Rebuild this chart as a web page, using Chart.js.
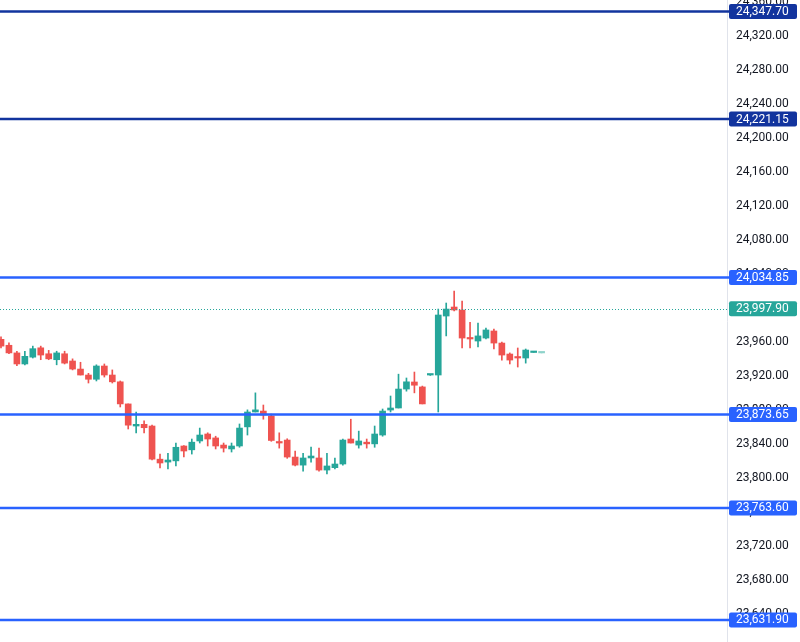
<!DOCTYPE html>
<html>
<head>
<meta charset="utf-8">
<script src="https://cdn.jsdelivr.net/npm/chart.js@4.4.1/dist/chart.umd.min.js"></script>
<style>
    html, body { margin: 0; padding: 0; background: #ffffff; }
    #wrap { position: relative; width: 800px; height: 642px; }
</style>
</head>
<body>
<div id="wrap"><canvas id="candles"></canvas></div>
<script>
// OHLC, one entry per candle (left to right)
const opens  = [23962, 23955, 23946, 23933, 23941, 23952, 23945, 23938, 23945, 23936.5,
                23927, 23920, 23915, 23930.6, 23920, 23912, 23886, 23860, 23862, 23860,
                23821, 23817.6, 23819, 23836.5, 23832, 23842.4, 23850.6, 23846, 23837.6, 23833,
                23836.5, 23859, 23876.5, 23877.6, 23871.8, 23841.5, 23843.5, 23823.5, 23814, 23822.4,
                23822.4, 23808.2, 23811, 23815.3, 23844.7, 23837.6, 23841, 23839, 23849.4, 23878.8,
                23881.2, 23903.5, 23911.8, 23906, 23920, 23920, 23989.4, 24000, 23996.5, 23963.5,
                23960, 23963.5, 23971.8, 23957.6, 23944.7, 23941.2, 23940, 23946.5, 23946];
const highs  = [23965, 23958, 23948, 23948, 23954, 23954, 23949, 23948, 23948, 23939,
                23935, 23922, 23932, 23933, 23926, 23913, 23886, 23876.5, 23866, 23861,
                23827, 23828, 23840, 23837, 23844.7, 23857.6, 23852, 23848, 23840, 23840,
                23862.4, 23879, 23899, 23884.7, 23874, 23852, 23845, 23830.6, 23828, 23835.3,
                23834, 23828, 23822.4, 23844.7, 23868, 23854, 23844.7, 23860, 23880, 23895.3,
                23921, 23916.5, 23923.5, 23907, 23920.5, 23997.6, 24004.7, 24018.8, 24007, 23982,
                23981, 23975.3, 23974, 23958.8, 23946, 23951.8, 23950.6, 23946.5, 23946];
const lows   = [23952, 23945, 23931, 23932, 23940, 23938, 23938, 23932, 23933, 23926,
                23920, 23910.6, 23913, 23917.6, 23910.6, 23882.4, 23856.5, 23852, 23852, 23820,
                23810.6, 23809.4, 23813, 23823.5, 23827, 23840, 23836.5, 23833, 23829.4, 23829.4,
                23835, 23849.4, 23876.5, 23868, 23842, 23834, 23822, 23813, 23807, 23817.6,
                23807, 23803.5, 23809.4, 23814, 23840, 23834, 23834, 23835, 23848, 23876.5,
                23881.2, 23901, 23899, 23886, 23919.5, 23876.5, 23966, 23995.3, 23952, 23952,
                23953, 23962.4, 23950.6, 23937.6, 23933, 23929.4, 23934, 23946.5, 23946];
const closes = [23954, 23946, 23933, 23942, 23951, 23943.5, 23939, 23946, 23934, 23927,
                23920, 23915, 23930.6, 23920, 23912, 23886, 23861, 23862, 23858, 23821,
                23816.5, 23820, 23835, 23830.6, 23841, 23849.4, 23844.7, 23836.5, 23834, 23836.5,
                23857.6, 23876.5, 23879, 23873, 23843, 23840, 23823.5, 23814, 23822.4, 23824.7,
                23808.2, 23813, 23815.3, 23843.5, 23840, 23842.4, 23839, 23850.6, 23877.6, 23881.2,
                23903.5, 23912, 23908, 23886, 23920, 23990.6, 23997.6, 23996.5, 23963.5, 23962.4,
                23966, 23973, 23957.6, 23943.5, 23937.6, 23940, 23949.4, 23946.5, 23946];

// drawn levels and the last price
const levelValues = [24347.70, 24221.15, 24034.85, 23873.65, 23763.60, 23631.90];
const lastPrice = 23997.90;

// price axis
const yMin = 23605.9;
const yMax = 24361.2;
const yStep = 40;

const GREEN = '#26a69a';
const RED = '#ef5350';
const NAVY = '#12349e';
const BLUE = '#2962ff';

function fmt(v) {
    return v.toLocaleString('en-US', { minimumFractionDigits: 2, maximumFractionDigits: 2 });
}

const wickData = highs.map((h, i) => ({ x: i, y: [lows[i], h] }));
const bodyData = opens.map((o, i) => ({ x: i, y: [o, closes[i]] }));
const candleColors = opens.map((o, i) => {
    if (i === opens.length - 1) return '#8fd3cb';
    return closes[i] >= o ? GREEN : RED;
});

const levelsPlugin = {
    id: 'levels',
    afterDatasetsDraw(chart) {
        const { ctx, chartArea, scales: { y } } = chart;
        ctx.save();
        // last price dotted line
        const py = Math.round(y.getPixelForValue(lastPrice)) + 0.5;
        ctx.strokeStyle = GREEN;
        ctx.lineWidth = 1;
        ctx.setLineDash([1, 2]);
        ctx.beginPath();
        ctx.moveTo(chartArea.left, py);
        ctx.lineTo(chartArea.right, py);
        ctx.stroke();
        ctx.setLineDash([]);
        levelValues.forEach((v, i) => {
            const ly = y.getPixelForValue(v);
            ctx.strokeStyle = i < 2 ? NAVY : BLUE;
            ctx.lineWidth = 2.5;
            ctx.beginPath();
            ctx.moveTo(chartArea.left, ly);
            ctx.lineTo(chartArea.right + 2, ly);
            ctx.stroke();
        });
        ctx.restore();
    },
    afterDraw(chart) {
        const { ctx, chartArea, scales: { y } } = chart;
        const badges = levelValues.map((v, i) => ({ v, color: i < 2 ? NAVY : BLUE }));
        badges.push({ v: lastPrice, color: GREEN });
        ctx.save();
        ctx.font = '12px Roboto';
        ctx.textBaseline = 'middle';
        ctx.textAlign = 'left';
        badges.forEach(b => {
            const by = y.getPixelForValue(b.v);
            ctx.fillStyle = b.color;
            ctx.beginPath();
            ctx.roundRect(chartArea.right + 2, by - 7.5, 68, 15, 2);
            ctx.fill();
            ctx.fillStyle = '#ffffff';
            ctx.fillText(fmt(b.v), chartArea.right + 9, by + 0.5);
        });
        ctx.restore();
    }
};

new Chart(document.getElementById('candles'), {
    type: 'bar',
    data: {
        datasets: [{
            label: 'wick',
            data: wickData,
            backgroundColor: candleColors,
            barThickness: 1,
            grouped: false,
            order: 2
        }, {
            label: 'body',
            data: bodyData,
            backgroundColor: candleColors,
            barThickness: 6,
            minBarLength: 1.5,
            grouped: false,
            order: 1
        }]
    },
    options: {
        responsive: true,
        maintainAspectRatio: false,
        animation: false,
        layout: { padding: 0 },
        plugins: {
            legend: { display: false },
            tooltip: { enabled: false }
        },
        scales: {
            x: {
                type: 'linear',
                display: false,
                offset: false,
                min: -0.126,
                max: 91.32
            },
            y: {
                position: 'right',
                min: yMin,
                max: yMax,
                grid: { display: false, drawTicks: false },
                border: { display: true, color: '#e0e3eb' },
                ticks: {
                    stepSize: yStep,
                    includeBounds: false,
                    autoSkip: false,
                    padding: 9,
                    labelOffset: 1,
                    color: '#131722',
                    font: { family: 'Roboto', size: 12 },
                    callback: v => fmt(v)
                },
                afterFit(scale) {
                    scale.width = 73;
                    scale.paddingTop = 0;
                    scale.paddingBottom = 0;
                }
            }
        }
    },
    plugins: [levelsPlugin]
});
</script>
</body>
</html>
